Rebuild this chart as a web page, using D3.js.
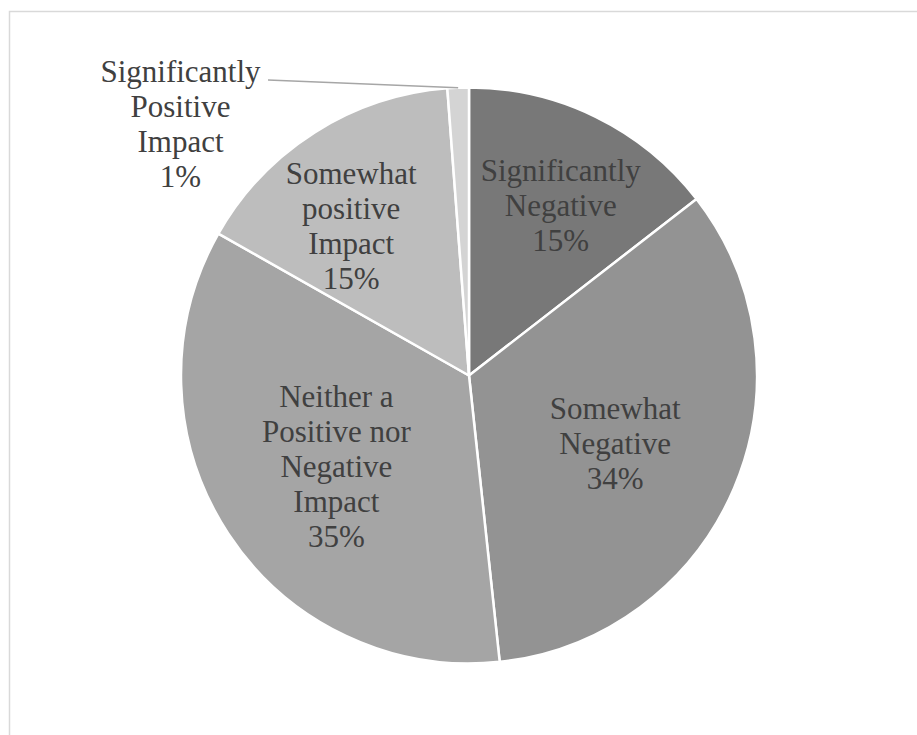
<!DOCTYPE html>
<html>
<head>
<meta charset="utf-8">
<script src="https://cdn.jsdelivr.net/npm/d3@7"></script>
</head>
<body style="margin:0">
<svg width="917" height="735"></svg>
<script>
var width = 917,
    height = 735;

// data (share of answers, %)
var categories = ["Significantly Negative", "Somewhat Negative",
                  "Neither a Positive nor Negative Impact",
                  "Somewhat positive Impact", "Significantly Positive Impact"];
var values = [14.5, 33.8, 34.9, 15.6, 1.2];
var shownPct = ["15%", "34%", "35%", "15%", "1%"];
var labelLines = [
  ["Significantly", "Negative"],
  ["Somewhat", "Negative"],
  ["Neither a", "Positive nor", "Negative", "Impact"],
  ["Somewhat", "positive", "Impact"],
  ["Significantly", "Positive", "Impact"]
];
var grays = ["#787878", "#939393", "#a5a5a5", "#bdbdbd", "#d4d4d4"];

var svg = d3.select("svg").style("font-family", "'Liberation Serif'");

// chart frame (only top and left edges fall inside the window)
svg.append("rect")
   .attr("x", 9.5).attr("y", 11.5)
   .attr("width", 1000).attr("height", 1000)
   .attr("fill", "none")
   .attr("stroke", "#d9d9d9")
   .attr("stroke-width", 1.5);

var cx = 469, cy = 375.5, r = 288;

var pie = d3.pie().sort(null).value(function(d) { return d; });
var arcs = pie(values);
var arc = d3.arc().innerRadius(0).outerRadius(r);

var g = svg.append("g").attr("transform", "translate(" + cx + "," + cy + ")");

g.selectAll("path")
  .data(arcs)
  .enter().append("path")
  .attr("d", arc)
  .attr("fill", function(d, i) { return grays[i]; })
  .attr("stroke", "#fff")
  .attr("stroke-width", 2.5)
  .attr("stroke-linejoin", "round");

// where the labels sit: radius factor + small angle tweak (degrees), like Excel "best fit"
var place = [
  { k: 0.67, turn: 2.3 },
  { k: 0.56, turn: 2 },
  { k: 0.56, turn: -1.4 },
  { k: 0.66, turn: -5.9 },
  null // outside, with leader line
];

var lineGap = 35;

// one text per line, placed in page coords
function drawLabel(x, y, lines) {
  lines.forEach(function(s, i) {
    svg.append("text")
      .style("font-family", "'Liberation Serif'")
      .attr("x", cx + x)
      .attr("y", cy + y + (i - (lines.length - 1) / 2) * lineGap + 10)
      .attr("text-anchor", "middle")
      .attr("font-size", 31)
      .attr("fill", "#404040")
      .text(s);
  });
}

arcs.forEach(function(d, i) {
  var lines = labelLines[i].concat([shownPct[i]]);
  var mid = (d.startAngle + d.endAngle) / 2;
  if (place[i]) {
    var a = mid + place[i].turn * Math.PI / 180;
    var rr = place[i].k * r;
    drawLabel(rr * Math.sin(a), -rr * Math.cos(a), lines);
  } else {
    // small slice: label outside on the upper left, leader line to the arc
    var ex = r * Math.sin(mid), ey = -r * Math.cos(mid);
    g.append("line")
      .attr("x1", 268 - cx).attr("y1", 80 - cy)
      .attr("x2", ex).attr("y2", ey)
      .attr("stroke", "#a6a6a6")
      .attr("stroke-width", 1.5);
    drawLabel(180.5 - cx, 124.5 - cy, lines);
  }
});
</script>
</body>
</html>
